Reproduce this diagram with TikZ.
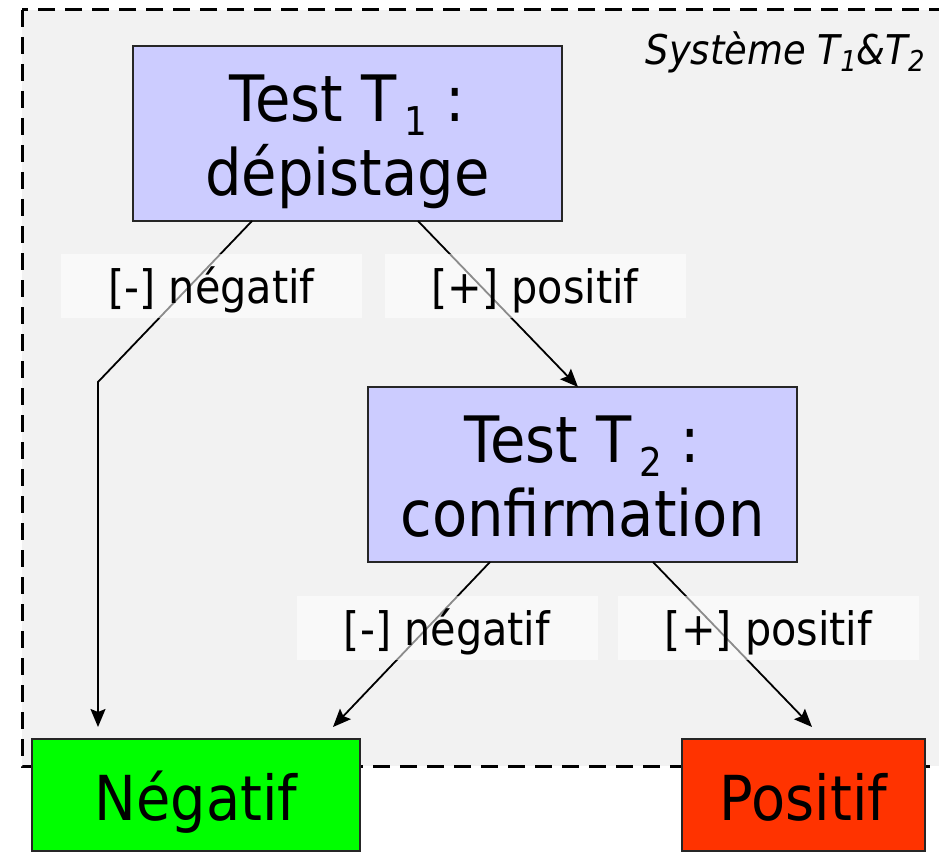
\documentclass[tikz,border=0pt]{standalone}
\usepackage{fontspec}
\setmainfont{DejaVu Sans}[FakeStretch=0.9]
\usetikzlibrary{arrows.meta,calc}
\definecolor{panel}{HTML}{F2F2F2}
\definecolor{testfill}{HTML}{CCCCFF}
\definecolor{negfill}{HTML}{00FF00}
\definecolor{posfill}{HTML}{FF3300}
% lowered index that takes no vertical room
\newcommand\boxidx[1]{\hspace{0.12em}\raisebox{-0.22em}[0pt][0pt]{\scalebox{0.62}{#1}}}
\newcommand\titleidx[1]{\raisebox{-0.17em}[0pt][0pt]{\scalebox{0.7}{#1}}}
% struts fixing the two-line block inside the test boxes
\newcommand\topstrut{\rule{0pt}{64pt}}
\newcommand\botstrut{\rule[-14pt]{0pt}{14pt}}
\begin{document}
\begin{tikzpicture}[x=1pt,y=-1pt,
  testbox/.style={draw=black!85,line width=2pt,fill=testfill,outer sep=0pt,
    minimum width=429pt,minimum height=175pt,inner sep=0pt,align=center,
    font=\fontsize{64}{74}\selectfont},
  resultbox/.style={draw=black!85,line width=2pt,minimum height=112pt,outer sep=0pt,
    inner sep=0pt,text height=56pt,text depth=6pt,
    font=\fontsize{62}{70}\selectfont},
  branch/.style={fill=white,fill opacity=0.55,text opacity=1,outer sep=0pt,
    minimum width=301pt,minimum height=64pt,inner sep=0pt,
    text height=40pt,text depth=6pt,
    font=\fontsize{46}{50}\selectfont},
  wire/.style={line width=1.8pt},
  link/.style={wire,-{Stealth[length=18pt,width=15pt,inset=3pt]}}
]
\useasboundingbox (0,0) rectangle (939,853);
\clip (0,0) rectangle (939,853);

% system frame
\draw[fill=panel,line width=3pt,dash pattern=on 17pt off 10pt]
  (22,10) rectangle (970,766);
\node[anchor=base east,font=\fontsize{41}{46}\selectfont\itshape] (sys)
  at (928,65) {Système T\titleidx{1}\&T\titleidx{2}};

% boxes
\node[testbox] (T1) at (347.5,133.5)
  {\topstrut Test T\boxidx{1} :\\dépistage\botstrut};
\node[testbox] (T2) at (582.5,474.5)
  {\topstrut Test T\boxidx{2} :\\confirmation\botstrut};
\node[resultbox,fill=negfill,minimum width=328pt] (neg) at (196,795) {Négatif};
\node[resultbox,fill=posfill,minimum width=243pt] (pos) at (803.5,795) {Positif};

% connectors
\coordinate (bend) at (98,382);
\draw[link] ($(T1.south west)+(119,0)$) -- (bend) -- ($(neg.north west)+(66,-12)$);
\draw[link] ($(T1.south west)+(285,0)$) -- ($(T2.north west)+(210,0)$);
\draw[link] ($(T2.south west)+(122,0)$) -- ($(neg.north east)+(-27,-12)$);
\draw[link] ($(T2.south west)+(285,0)$) -- ($(pos.north west)+(130,-12)$);

% branch labels
\node[branch] (l1) at (211.5,286) {[-] négatif};
\node[branch] (l2) at (535,286) {[+] positif};
\node[branch] (l3) at (447,628) {[-] négatif};
\node[branch] (l4) at (768.5,628) {[+] positif};
\end{tikzpicture}
\end{document}
